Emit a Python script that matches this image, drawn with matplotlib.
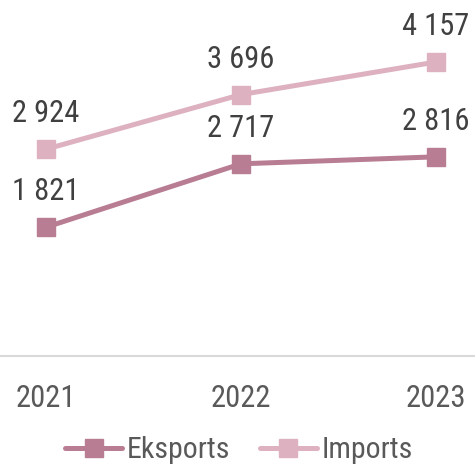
import matplotlib
matplotlib.use("Agg")
from matplotlib import pyplot as plt

# data
years = ["2021", "2022", "2023"]
eksports = [1821, 2717, 2816]
imports = [2924, 3696, 4157]
series_names = ["Eksports", "Imports"]

plt.rcParams['font.family'] = ['Roboto Condensed', 'Archivo Narrow', 'DejaVu Sans']

fig = plt.figure(figsize=(4.75, 4.74), dpi=100)
ax = fig.add_axes([0, 0.249, 1, 0.746])

x = list(range(len(years)))
colors = ["#B87D92", "#DDB1C0"]
for vals, name, c in zip([eksports, imports], series_names, colors):
    ax.plot(x, vals, color=c, lw=3.6, marker="s", markersize=12.5,
            solid_capstyle="round", label=name)
    for xi, v in zip(x, vals):
        lab = f"{v:,}".replace(",", " ")
        ax.annotate(lab, (xi, v), xytext=(0, 25.5), textcoords="offset points",
                    ha="center", va="center", fontsize=22, color="#404040")

ax.set_xlim(-0.236, 2.2)
ax.set_ylim(0, 5000)
ax.set_xticks(x)
ax.set_xticklabels(years, fontsize=22, color="#595959")
ax.tick_params(axis="x", length=0, pad=20)
ax.set_yticks([])
for s in ["top", "left", "right"]:
    ax.spines[s].set_visible(False)
ax.spines["bottom"].set_color("#D9D9D9")
ax.spines["bottom"].set_linewidth(1.5)

leg = ax.legend(loc="center", bbox_to_anchor=(0.503, -0.266), ncol=2, frameon=False,
                fontsize=21.5, handlelength=1.9, handletextpad=0.15, columnspacing=1.0,
                labelcolor="#595959")

fig.savefig("out.png", dpi=100)
